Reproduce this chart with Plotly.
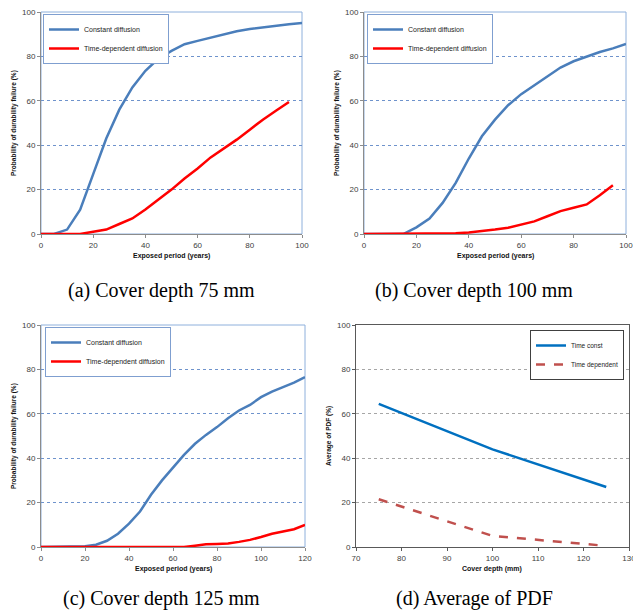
import plotly.graph_objects as go

# ---------------- data ----------------
years_100 = [0, 5, 10, 15, 20, 25, 30, 35, 40, 45, 50, 55, 60, 65, 70, 75, 80, 85, 90, 95, 100]
years_95 = [0, 5, 10, 15, 20, 25, 30, 35, 40, 45, 50, 55, 60, 65, 70, 75, 80, 85, 90, 95]
years_120 = [0, 5, 10, 15, 20, 25, 30, 35, 40, 45, 50, 55, 60, 65, 70, 75, 80, 85, 90, 95, 100,
             105, 110, 115, 120]

a_const = [0, 0, 2, 11, 27, 43, 56, 66, 73.5, 79, 82.5, 85.5, 87, 88.5, 90, 91.3, 92.3, 93, 94, 94.5, 95]
a_time = [0, 0, 0, 0, 1, 2, 4.5, 7, 11, 15.5, 20, 25, 29.5, 34.5, 38.5, 42.5, 47, 51.5, 55.5, 59.5]

b_const = [0, 0, 0, 0, 3, 7, 14, 23, 34, 44, 51.5, 58, 63, 67, 71.3, 75, 77.8, 80, 82, 83.6, 85.6]
b_time = [0, 0, 0, 0, 0, 0, 0, 0.3, 0.7, 1.2, 2, 2.8, 4.2, 5.7, 8, 10.3, 11.8, 13.3, 17.5, 22]

c_const = [0, 0, 0, 0, 0.3, 1, 2.8, 6, 10.5, 16, 23.5, 30, 36, 41.5, 46.5, 50.5, 54, 58, 61.5,
           64, 67.5, 70, 72, 74, 76.5]
c_time = [0, 0, 0, 0, 0, 0, 0, 0, 0, 0, 0, 0, 0, 0, 0.6, 1.2, 1.4, 1.6, 2.3, 3.2, 4.5, 6, 7, 8, 10]

cover_depth = [75, 100, 125]
d_const = [64.5, 44, 27]
d_time = [21.5, 5, 0.5]

names_abc = ["Constant diffusion", "Time-dependent diffusion"]
names_d = ["Time const", "Time dependent"]
captions = ["(a) Cover depth 75 mm", "(b) Cover depth 100 mm",
            "(c) Cover depth 125 mm", "(d) Average of PDF"]
xtitle_abc = "Exposed period (years)"
ytitle_abc = "Probability of durability failure (%)"
xtitle_d = "Cover depth (mm)"
ytitle_d = "Average of PDF (%)"

# ---------------- layout helpers ----------------
W, H = 633, 615
FONT = "Liberation Sans"
BLUE = "#4a7ebb"
RED = "#ff0000"


def px_x(v):
    return v / W


def px_y(v):
    return 1 - v / H


panels = {
    1: dict(x=(41, 302), y=(12, 234)),
    2: dict(x=(364, 626), y=(12, 234)),
    3: dict(x=(41, 305), y=(325, 547)),
    4: dict(x=(356, 629), y=(325, 547)),
}

fig = go.Figure()

series = [
    (1, years_100, a_const, years_95, a_time),
    (2, years_100, b_const, years_95, b_time),
    (3, years_120, c_const, years_120, c_time),
]
for idx, xc, yc, xt, yt in series:
    ax = "" if idx == 1 else str(idx)
    lg = "legend" if idx == 1 else f"legend{idx}"
    fig.add_trace(go.Scatter(x=xc, y=yc, mode="lines", name=names_abc[0],
                             line=dict(color=BLUE, width=2.5),
                             xaxis="x" + ax, yaxis="y" + ax, legend=lg))
    fig.add_trace(go.Scatter(x=xt, y=yt, mode="lines", name=names_abc[1],
                             line=dict(color=RED, width=2.5),
                             xaxis="x" + ax, yaxis="y" + ax, legend=lg))

fig.add_trace(go.Scatter(x=cover_depth, y=d_const, mode="lines", name=names_d[0],
                         line=dict(color="#0070c0", width=2.5),
                         xaxis="x4", yaxis="y4", legend="legend4"))
fig.add_trace(go.Scatter(x=cover_depth, y=d_time, mode="lines", name=names_d[1],
                         line=dict(color="#c0504d", width=2.5, dash="dash"),
                         xaxis="x4", yaxis="y4", legend="legend4"))

layout = dict(
    width=W, height=H,
    margin=dict(l=0, r=0, t=0, b=0, autoexpand=False),
    paper_bgcolor="white", plot_bgcolor="white",
    font=dict(family=FONT, color="#333333"),
    showlegend=True,
)

xranges = {1: (0, 100, 20), 2: (0, 100, 20), 3: (0, 120, 20), 4: (70, 130, 10)}
for idx, p in panels.items():
    ax = "" if idx == 1 else str(idx)
    d_panel = idx == 4
    gridc = "#a6a6a6" if d_panel else "#6f93cc"
    linec = "#595959" if d_panel else "#8c8c8c"
    x0, x1, dx = xranges[idx]
    layout["xaxis" + ax] = dict(
        domain=[px_x(p["x"][0]), px_x(p["x"][1])],
        anchor="y" + ax, range=[x0, x1], dtick=dx, tick0=x0,
        showgrid=False, zeroline=False, showline=True, linecolor=linec, linewidth=1,
        mirror=d_panel, automargin=False, ticklabeloverflow="allow",
        ticks="outside", ticklen=3, tickcolor=linec,
        tickfont=dict(size=8, color="#404040", family=FONT),
    )
    layout["yaxis" + ax] = dict(
        domain=[px_y(p["y"][1]), px_y(p["y"][0])],
        anchor="x" + ax, range=[0, 100], dtick=20,
        showgrid=True, gridcolor=gridc, griddash="dot", gridwidth=1,
        zeroline=False, showline=True, linecolor=linec, linewidth=1,
        mirror=d_panel, automargin=False, ticklabeloverflow="allow",
        ticks="outside", ticklen=3, tickcolor=linec,
        tickfont=dict(size=8, color="#404040", family=FONT),
    )

# legends
leg_pos = {1: (43, 14, "left"), 2: (367, 14, "left"), 3: (45, 327, "left"), 4: (624, 330, "right")}
for idx, (lx, ly, anc) in leg_pos.items():
    key = "legend" if idx == 1 else f"legend{idx}"
    d_panel = idx == 4
    layout[key] = dict(
        x=px_x(lx), y=px_y(ly), xanchor=anc, yanchor="top",
        xref="paper", yref="paper",
        bgcolor="white",
        bordercolor="#404040" if d_panel else "#7f9fd0", borderwidth=1,
        font=dict(size=6.5 if d_panel else 7, color="#222222", family=FONT),
        tracegroupgap=0, itemwidth=30,
    )

shapes = []
for idx in (1, 2, 3):
    ax = "" if idx == 1 else str(idx)
    shapes.append(dict(type="rect", xref=f"x{ax} domain", yref=f"y{ax} domain",
                       x0=0, x1=1, y0=0, y1=1, line=dict(color="#8eb0dc", width=1),
                       layer="below"))
layout["shapes"] = shapes

ann = []
# axis titles
for idx, p in panels.items():
    cx = (p["x"][0] + p["x"][1]) / 2
    cy = (p["y"][0] + p["y"][1]) / 2
    xt = xtitle_d if idx == 4 else xtitle_abc
    yt = ytitle_d if idx == 4 else ytitle_abc
    ann.append(dict(text=f"<b>{xt}</b>", x=px_x(cx), y=px_y(p["y"][1] + 22),
                    xref="paper", yref="paper", showarrow=False,
                    xanchor="center", yanchor="middle",
                    font=dict(size=7, color="#111111", family=FONT)))
    ann.append(dict(text=f"<b>{yt}</b>", x=px_x(p["x"][0] - 27), y=px_y(cy),
                    xref="paper", yref="paper", showarrow=False, textangle=-90,
                    xanchor="center", yanchor="middle",
                    font=dict(size=6.5, color="#111111", family=FONT)))

# captions
cap_pos = [(161, 290), (474, 290), (161, 598), (474, 598)]
for t, (cx, cy) in zip(captions, cap_pos):
    ann.append(dict(text=t, x=px_x(cx), y=px_y(cy), xref="paper", yref="paper",
                    showarrow=False, xanchor="center", yanchor="middle",
                    font=dict(size=20, color="#000000", family="Liberation Serif")))
layout["annotations"] = ann

fig.update_layout(**layout)
fig.write_html(
    "out.html",
    config={"displayModeBar": False},
    post_script="document.body.style.margin='0';document.body.style.padding='0';"
                "document.body.style.overflow='hidden';",
)
